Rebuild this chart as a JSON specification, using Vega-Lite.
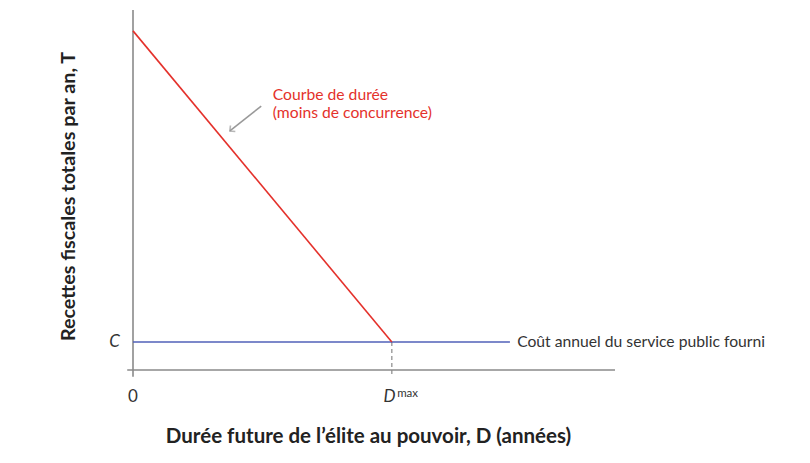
{
  "$schema": "https://vega.github.io/schema/vega-lite/v6.json",
  "description": "Courbe de durée vs coût annuel du service public",
  "autosize": "none",
  "width": 482,
  "height": 360,
  "padding": {"left": 133, "top": 10, "right": 195, "bottom": 93},
  "background": "white",
  "config": {
    "view": {"stroke": null},
    "font": "Lato",
    "axis": {"titleFont": "Lato", "titleFontWeight": "bold", "titleColor": "#222"}
  },
  "datasets": {
    "axes": [
      {"x": -1.2, "x2": 100, "y": 0, "y2": 0},
      {"x": 0, "x2": 0, "y": -1.9, "y2": 100}
    ],
    "duree": [{"x": 0, "x2": 53.7, "y": 94.2, "y2": 7.78}],
    "cout": [{"x": 0, "x2": 78.2, "y": 7.78, "y2": 7.78}],
    "dmax": [{"x": 53.7, "x2": 53.7, "y": 7.78, "y2": -1.7}],
    "arrow": [{"x": 26.6, "x2": 20.1, "y": 73.3, "y2": 66.4}],
    "note": [
      {"x": 29.0, "y": 76.4, "label": "Courbe de durée"},
      {"x": 29.0, "y": 71.4, "label": "(moins de concurrence)"}
    ],
    "italic": [
      {"x": -3.8, "y": 7.78, "label": "C"},
      {"x": 53.2, "y": -7.6, "label": "D"}
    ]
  },
  "layer": [
    {
      "data": {"name": "axes"},
      "mark": {"type": "rule", "color": "#8a8a8a", "strokeWidth": 1.6, "clip": false},
      "encoding": {
        "x": {"field": "x", "type": "quantitative", "scale": {"domain": [0, 100]},
          "axis": {"domain": false, "ticks": false, "labels": false, "grid": false,
            "title": "Durée future de l’élite au pouvoir, D (années)", "titleFontSize": 20.5, "titlePadding": 56, "titleX": 235}},
        "x2": {"field": "x2"},
        "y": {"field": "y", "type": "quantitative", "scale": {"domain": [0, 100]},
          "axis": {"domain": false, "ticks": false, "labels": false, "grid": false,
            "title": "Recettes fiscales totales par an, T", "titleFontSize": 19.8, "titlePadding": 55, "titleY": 186}},
        "y2": {"field": "y2"}
      }
    },
    {
      "data": {"name": "dmax"},
      "mark": {"type": "rule", "color": "#8a8a8a", "strokeWidth": 1.2, "strokeDash": [4, 3], "clip": false},
      "encoding": {
        "x": {"field": "x", "type": "quantitative"}, "x2": {"field": "x2"},
        "y": {"field": "y", "type": "quantitative"}, "y2": {"field": "y2"}
      }
    },
    {
      "data": {"name": "cout"},
      "mark": {"type": "rule", "color": "#5060b8", "strokeWidth": 1.6},
      "encoding": {
        "x": {"field": "x", "type": "quantitative"}, "x2": {"field": "x2"},
        "y": {"field": "y", "type": "quantitative"}, "y2": {"field": "y2"}
      }
    },
    {
      "data": {"name": "duree"},
      "mark": {"type": "rule", "color": "#e4312b", "strokeWidth": 1.6},
      "encoding": {
        "x": {"field": "x", "type": "quantitative"}, "x2": {"field": "x2"},
        "y": {"field": "y", "type": "quantitative"}, "y2": {"field": "y2"}
      }
    },
    {
      "data": {"name": "arrow"},
      "mark": {"type": "rule", "color": "#999999", "strokeWidth": 1.6},
      "encoding": {
        "x": {"field": "x", "type": "quantitative"}, "x2": {"field": "x2"},
        "y": {"field": "y", "type": "quantitative"}, "y2": {"field": "y2"}
      }
    },
    {
      "data": {"name": "arrow"},
      "mark": {"type": "point", "shape": "M-1,-1L0,0L-1,1", "size": 60, "filled": false,
        "stroke": "#999999", "strokeWidth": 1.6, "angle": 141},
      "encoding": {
        "x": {"field": "x2", "type": "quantitative"},
        "y": {"field": "y2", "type": "quantitative"}
      }
    },
    {
      "data": {"name": "note"},
      "mark": {"type": "text", "align": "left", "baseline": "middle", "fontSize": 15.7, "color": "#e4312b"},
      "encoding": {
        "x": {"field": "x", "type": "quantitative"},
        "y": {"field": "y", "type": "quantitative"},
        "text": {"field": "label"}
      }
    },
    {
      "data": {"values": [{"x": 79.7, "y": 7.78, "label": "Coût annuel du service public fourni"}]},
      "mark": {"type": "text", "align": "left", "baseline": "middle", "fontSize": 15.7, "color": "#333333"},
      "encoding": {
        "x": {"field": "x", "type": "quantitative"},
        "y": {"field": "y", "type": "quantitative"},
        "text": {"field": "label"}
      }
    },
    {
      "data": {"name": "italic"},
      "mark": {"type": "text", "align": "center", "baseline": "middle", "fontSize": 17, "fontStyle": "italic", "color": "#333333", "clip": false},
      "encoding": {
        "x": {"field": "x", "type": "quantitative"},
        "y": {"field": "y", "type": "quantitative"},
        "text": {"field": "label"}
      }
    },
    {
      "data": {"values": [{"x": 0, "y": -7.6, "label": "0"}]},
      "mark": {"type": "text", "align": "center", "baseline": "middle", "fontSize": 17, "color": "#333333", "clip": false},
      "encoding": {
        "x": {"field": "x", "type": "quantitative"},
        "y": {"field": "y", "type": "quantitative"},
        "text": {"field": "label"}
      }
    },
    {
      "data": {"values": [{"x": 54.8, "y": -6.7, "label": "max"}]},
      "mark": {"type": "text", "align": "left", "baseline": "middle", "fontSize": 11.5, "color": "#333333", "clip": false},
      "encoding": {
        "x": {"field": "x", "type": "quantitative"},
        "y": {"field": "y", "type": "quantitative"},
        "text": {"field": "label"}
      }
    }
  ]
}
